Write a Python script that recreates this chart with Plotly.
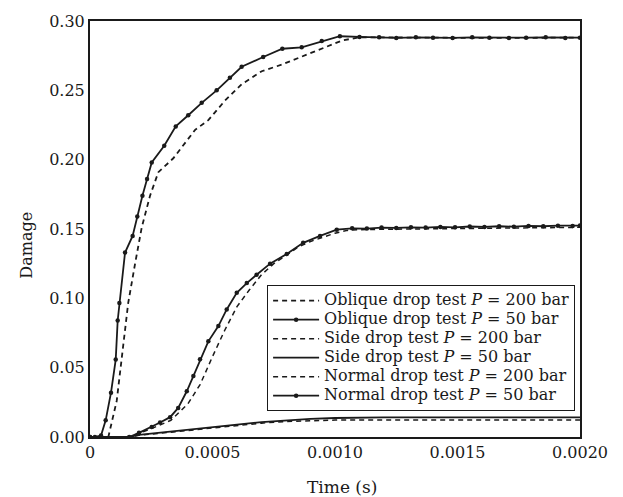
import plotly.graph_objects as go

# Time (s) and damage values for each load case
obl50_t = [0, 0.00002, 0.000045, 0.000064, 0.0000857, 0.000105, 0.000113, 0.00012,
           0.000143, 0.000174, 0.000193, 0.000214, 0.000233, 0.000252, 0.000303,
           0.00035, 0.000401, 0.000456, 0.000517, 0.000571, 0.000619, 0.000707,
           0.000785, 0.000864, 0.000946, 0.00102, 0.0011, 0.00118, 0.00125, 0.00133,
           0.0014, 0.00148, 0.00156, 0.00163, 0.00171, 0.00178, 0.00186, 0.00194, 0.002]
obl50_d = [0, 0, 0.001, 0.012, 0.032, 0.0558, 0.084, 0.0967,
           0.133, 0.145, 0.159, 0.174, 0.186, 0.198, 0.21,
           0.224, 0.232, 0.241, 0.25, 0.259, 0.267, 0.274,
           0.28, 0.281, 0.2855, 0.289, 0.2885, 0.2882, 0.2878, 0.2882,
           0.288, 0.2878, 0.2882, 0.288, 0.2878, 0.288, 0.2882, 0.2878, 0.288]

obl200_t = [0, 0.0000748, 0.000109, 0.000136, 0.000156, 0.000184, 0.000211, 0.000245,
            0.000279, 0.00034, 0.000388, 0.000429, 0.000483, 0.000551, 0.000619,
            0.000701, 0.000782, 0.000864, 0.000946, 0.00103, 0.0011, 0.0012, 0.0014,
            0.0016, 0.0018, 0.002]
obl200_d = [0, 0, 0.026, 0.066, 0.0967, 0.125, 0.151, 0.174,
            0.191, 0.201, 0.212, 0.2215, 0.2285, 0.2426, 0.2544,
            0.2638, 0.2685, 0.2744, 0.28, 0.286, 0.2882, 0.288, 0.288,
            0.2878, 0.288, 0.288]

nor50_t = [0, 0.00016, 0.0002, 0.000252, 0.000286, 0.000327, 0.00036, 0.000395,
           0.000422, 0.000449, 0.000483, 0.000524, 0.000558, 0.000599, 0.00064,
           0.00068, 0.000735, 0.000803, 0.00087, 0.000939, 0.001007, 0.00107,
           0.00113, 0.00119, 0.00125, 0.00131, 0.00137, 0.00143, 0.00149, 0.00155,
           0.00161, 0.00167, 0.00173, 0.00179, 0.00185, 0.00191, 0.00197, 0.002]
nor50_d = [0, 0, 0.003, 0.0073, 0.0105, 0.0143, 0.021, 0.033,
           0.044, 0.056, 0.069, 0.080, 0.092, 0.104, 0.111,
           0.117, 0.125, 0.132, 0.140, 0.145, 0.1495, 0.1505,
           0.1503, 0.151, 0.1508, 0.1512, 0.151, 0.1515, 0.1512, 0.1518,
           0.1515, 0.152, 0.1517, 0.1522, 0.152, 0.1524, 0.1522, 0.1525]

nor200_t = [0, 0.00016, 0.00025, 0.00033, 0.0004, 0.00045, 0.0005, 0.00055, 0.0006,
            0.00065, 0.0007, 0.00075, 0.0008, 0.00085, 0.0009, 0.00095, 0.001,
            0.00105, 0.0011, 0.0012, 0.0013, 0.0014, 0.0015, 0.0016, 0.0017,
            0.0018, 0.0019, 0.002]
nor200_d = [0, 0, 0.006, 0.012, 0.024, 0.038, 0.058, 0.077, 0.094,
            0.106, 0.117, 0.125, 0.131, 0.137, 0.141, 0.144, 0.147,
            0.149, 0.1495, 0.1498, 0.15, 0.1502, 0.1505, 0.1505, 0.1508,
            0.151, 0.151, 0.1512]

side_t = [0, 0.00016, 0.0002, 0.0003, 0.0004, 0.0005, 0.0006, 0.0007, 0.0008,
          0.0009, 0.001, 0.0011, 0.0012, 0.0014, 0.0016, 0.0018, 0.002]
side50_d = [0, 0, 0.0015, 0.0035, 0.0055, 0.0073, 0.009, 0.0107, 0.0121,
            0.0131, 0.0137, 0.014, 0.0141, 0.0142, 0.0142, 0.0142, 0.0142]
side200_d = [0, 0, 0.0012, 0.003, 0.005, 0.0068, 0.0085, 0.01, 0.0112,
             0.0119, 0.0122, 0.0123, 0.0123, 0.0123, 0.0123, 0.0123, 0.0123]

x_ticks = [0, 0.0005, 0.001, 0.0015, 0.002]
x_tick_text = ["0", "0.0005", "0.0010", "0.0015", "0.0020"]
y_ticks = [0, 0.05, 0.10, 0.15, 0.20, 0.25, 0.30]
y_tick_text = ["0.00", "0.05", "0.10", "0.15", "0.20", "0.25", "0.30"]

INK = "#1a1a1a"
FONT = "DejaVu Serif"
DASH = "5px,4px"

fig = go.Figure()


def entry(label):
    # legend rows are spaced by the legend font; the label itself is set larger
    return '<span style="font-size:16px">' + label + "</span>"


def add(t, d, name, dashed, markers, width):
    fig.add_trace(go.Scatter(
        x=t, y=d, name=entry(name),
        mode="lines+markers" if markers else "lines",
        line=dict(color=INK, width=width, dash=DASH if dashed else "solid"),
        marker=dict(size=4.5, color=INK),
    ))


add(obl200_t, obl200_d, "Oblique drop test <i>P</i> = 200 bar", True, False, 1.8)
add(obl50_t, obl50_d, "Oblique drop test <i>P</i> = 50 bar", False, True, 1.8)
add(side_t, side200_d, "Side drop test <i>P</i> = 200 bar", True, False, 1.5)
add(side_t, side50_d, "Side drop test <i>P</i> = 50 bar", False, False, 1.8)
add(nor200_t, nor200_d, "Normal drop test <i>P</i> = 200 bar", True, False, 1.5)
add(nor50_t, nor50_d, "Normal drop test <i>P</i> = 50 bar", False, True, 1.8)

axis_common = dict(
    showline=True, linecolor=INK, linewidth=2, mirror=True,
    showgrid=False, zeroline=False, ticks="",
    tickfont=dict(family=FONT, size=16, color=INK),
)

fig.update_layout(
    width=623, height=497,
    margin=dict(l=90, r=43, t=12, b=60),
    paper_bgcolor="white", plot_bgcolor="white",
    font=dict(family=FONT, color=INK),
    xaxis=dict(range=[0, 0.002], tickvals=x_ticks, ticktext=x_tick_text, **axis_common),
    yaxis=dict(range=[0, 0.30], tickvals=y_ticks, ticktext=y_tick_text, **axis_common),
    legend=dict(
        x=0.99, y=0.365, xanchor="right", yanchor="top",
        bordercolor=INK, borderwidth=1, bgcolor="white",
        font=dict(family=FONT, size=11.8, color=INK),
        itemwidth=46, tracegroupgap=0,
    ),
    showlegend=True,
    annotations=[
        dict(text="Time (s)", xref="paper", yref="paper", x=0.515, y=0,
             yshift=-50, xanchor="center", yanchor="middle", showarrow=False,
             font=dict(family=FONT, size=17, color=INK)),
        dict(text="Damage", xref="paper", yref="paper", x=0, y=0.46,
             xshift=-63, xanchor="center", yanchor="middle", textangle=-90,
             showarrow=False, font=dict(family=FONT, size=16, color=INK)),
    ],
)

fig.write_html("out.html")
